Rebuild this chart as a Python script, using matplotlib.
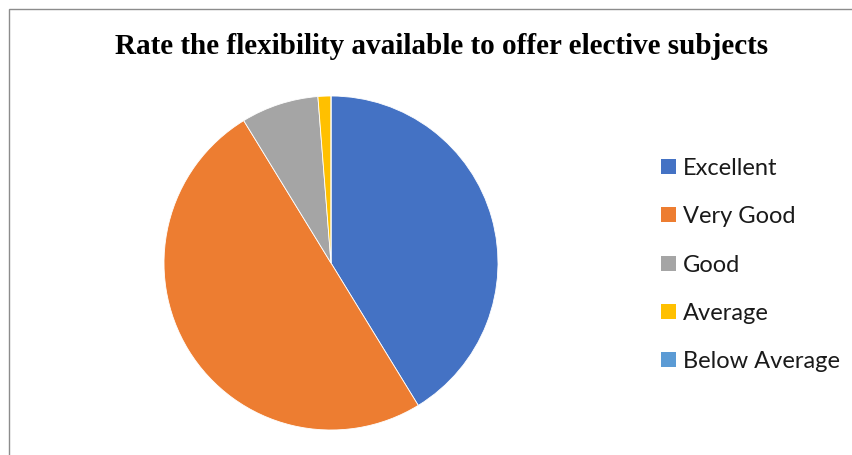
import matplotlib
matplotlib.use("Agg")
import matplotlib.pyplot as plt
from matplotlib.patches import Rectangle

categories = ["Excellent", "Very Good", "Good", "Average", "Below Average"]
values = [33, 40, 6, 1, 0]
colors = ["#4472C4", "#ED7D31", "#A5A5A5", "#FFC000", "#5B9BD5"]
title = "Rate the flexibility available to offer elective subjects"

W, H = 853, 455
fig = plt.figure(figsize=(W / 100, H / 100), dpi=100)

# chart frame (extends past right/bottom edges)
fig.patches.append(Rectangle((8.5 / W, -0.1), 1.2, 1 - 8.5 / H + 0.1,
                             transform=fig.transFigure, fill=False,
                             edgecolor="#8C8C8C", linewidth=1.0))

cx, cy, r = 331, 263, 167
ax = fig.add_axes([(cx - r) / W, (H - cy - r) / H, 2 * r / W, 2 * r / H])
ax.pie(values, colors=colors, startangle=90, counterclock=False, radius=1.0,
       wedgeprops=dict(edgecolor="white", linewidth=0.6))
ax.set_xlim(-1, 1)
ax.set_ylim(-1, 1)
ax.set_aspect("equal")
ax.axis("off")

fig.text(441.5 / W, 1 - 47 / H, title, ha="center", va="center",
         fontfamily="Liberation Serif", fontweight="bold", fontsize=21)

ys = [166.5, 214.5, 263.5, 311.5, 359.5]
for cat, col, y in zip(categories, colors, ys):
    fig.patches.append(Rectangle((661 / W, 1 - (y + 7.5) / H), 15 / W, 15 / H,
                                 transform=fig.transFigure, facecolor=col,
                                 edgecolor="none"))
    fig.text(683 / W, 1 - y / H, cat, ha="left", va="center_baseline",
             fontfamily="Lato", fontsize=17, color="#1a1a1a")

fig.savefig("out.png", dpi=100)
